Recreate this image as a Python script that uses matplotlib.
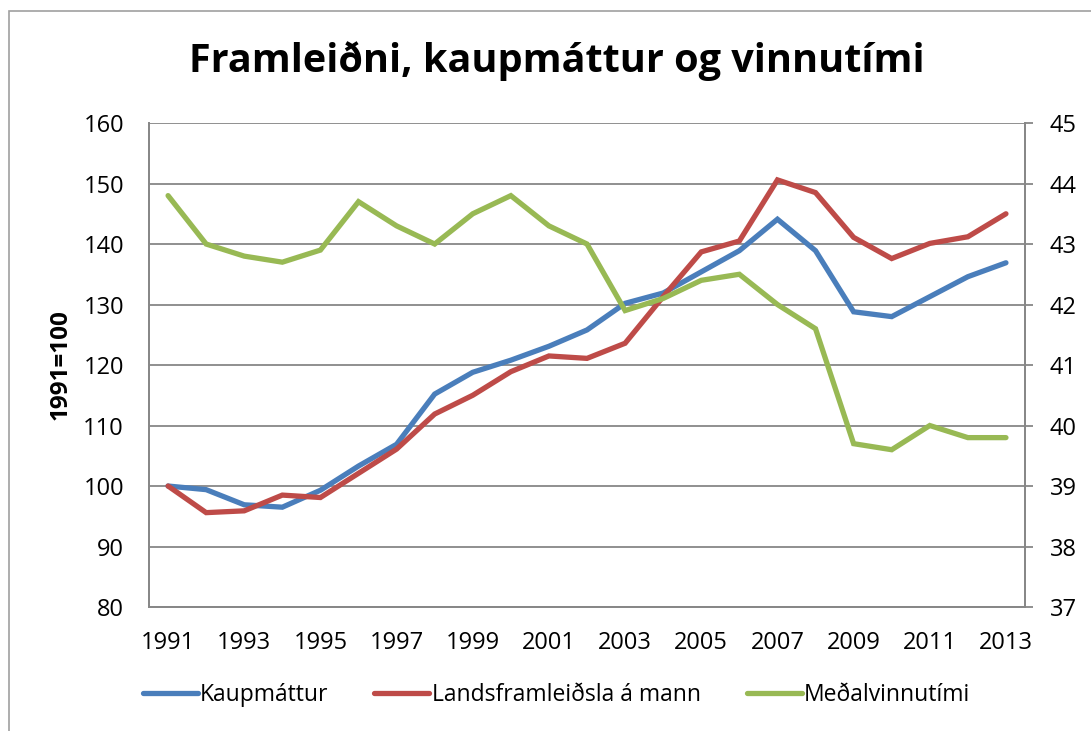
import matplotlib
matplotlib.use("Agg")
import matplotlib.pyplot as plt
from matplotlib.patches import Rectangle

years = list(range(1991, 2014))
kaupmattur = [100.0, 99.4, 96.9, 96.5, 99.3, 103.3, 106.9, 115.2, 118.8, 120.8, 123.1, 125.8,
              130.2, 131.9, 135.4, 138.9, 144.1, 138.9, 128.8, 128.0, 131.3, 134.6, 136.9]
landsframleidsla = [100.0, 95.6, 95.9, 98.5, 98.1, 102.1, 106.1, 111.9, 115.0, 118.9, 121.5, 121.1,
                    123.6, 131.3, 138.7, 140.5, 150.6, 148.5, 141.1, 137.6, 140.1, 141.2, 145.0]
vinnutimi = [43.8, 43.0, 42.8, 42.7, 42.9, 43.7, 43.3, 43.0, 43.5, 43.8, 43.3, 43.0,
             41.9, 42.1, 42.4, 42.5, 42.0, 41.6, 39.7, 39.6, 40.0, 39.8, 39.8]
xtick_labels = [str(y) for y in years[::2]]
left_ticks = [80, 90, 100, 110, 120, 130, 140, 150, 160]
right_ticks = [37, 38, 39, 40, 41, 42, 43, 44, 45]

FONT = ["Open Sans", "DejaVu Sans"]
plt.rcParams["font.family"] = FONT

BLUE = "#4A7EBB"
RED = "#BE4B48"
GREEN = "#98B954"
GRID = "#878787"

fig = plt.figure(figsize=(10.91, 7.31), dpi=100)
fig.patches.append(Rectangle((0.008, -0.1), 1.2, 1.085, transform=fig.transFigure,
                             fill=False, edgecolor="#A0A0A0", linewidth=1.2))

ax = fig.add_axes([0.1366, 0.1696, 0.8029, 0.6621])
ax2 = ax.twinx()

x = list(range(len(years)))
lw = 3.8
l1, = ax.plot(x, kaupmattur, color=BLUE, lw=lw, solid_capstyle="round", solid_joinstyle="miter", zorder=3)
l2, = ax.plot(x, landsframleidsla, color=RED, lw=lw, solid_capstyle="round", solid_joinstyle="miter", zorder=4)
l3, = ax2.plot(x, vinnutimi, color=GREEN, lw=lw, solid_capstyle="round", solid_joinstyle="miter", zorder=3)

ax.set_xlim(-0.5, len(years) - 0.5)
ax.set_ylim(80, 160)
ax2.set_ylim(37, 45)
ax.set_yticks(left_ticks)
ax2.set_yticks(right_ticks)
ax.set_xticks(x[::2])
ax.set_xticklabels(xtick_labels)

ax.grid(axis="y", color=GRID, lw=1.3)
ax.set_axisbelow(True)

for a in (ax, ax2):
    for s in a.spines.values():
        s.set_color(GRID)
        s.set_linewidth(1.3)
    a.spines["top"].set_visible(False)
ax.tick_params(axis="y", length=0, labelsize=17, pad=18)
ax2.tick_params(axis="y", length=6, width=1.3, color=GRID, labelsize=17, pad=12)
ax.tick_params(axis="x", length=0, labelsize=17, pad=17)

ax.set_ylabel("1991=100", fontsize=17.5, fontweight="bold", labelpad=8)

fig.text(0.51, 0.917, "Framleiðni, kaupmáttur og vinnutími", ha="center", va="center",
         fontsize=28.5, fontweight="bold")

fig.legend([l1, l2, l3], ["Kaupmáttur", "Landsframleiðsla á mann", "Meðalvinnutími"],
           loc="center", bbox_to_anchor=(0.51, 0.049), ncol=3, frameon=False,
           fontsize=16.5, handlelength=2.4, handletextpad=0.1, columnspacing=2.0)

fig.savefig("out.png", dpi=100)
